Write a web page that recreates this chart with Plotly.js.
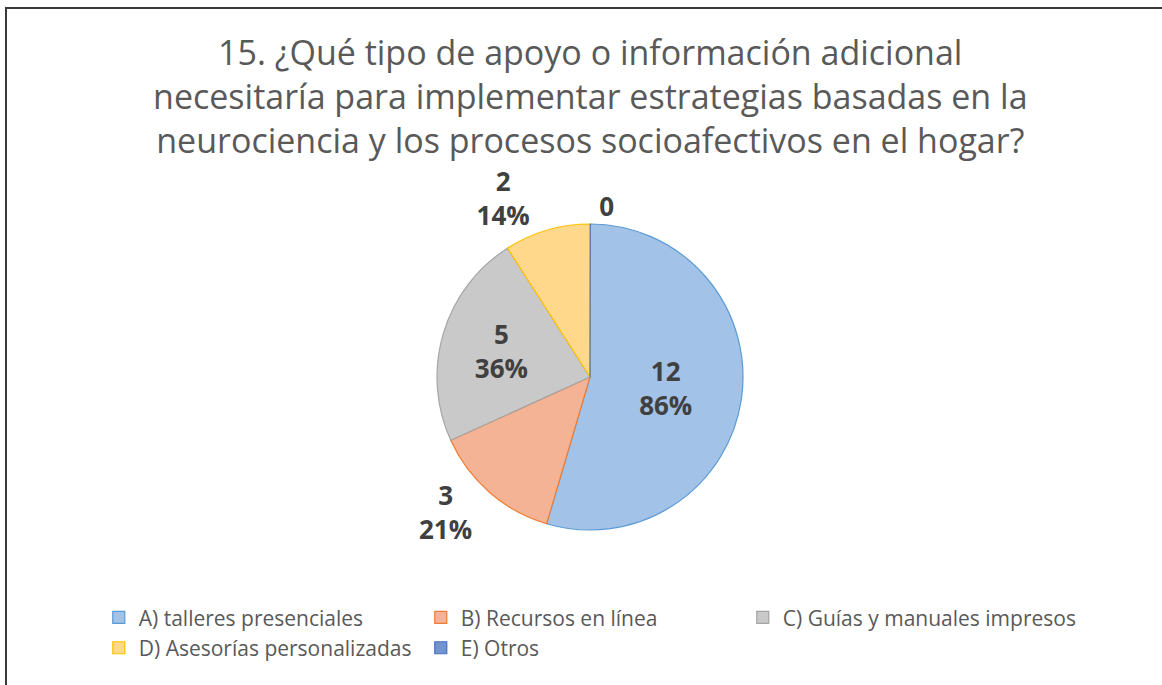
<!DOCTYPE html>
<html>
<head>
<meta charset="utf-8">
<script src="https://cdn.plot.ly/plotly-3.0.1.min.js"></script>
<style>
  html, body { margin: 0; padding: 0; background: #fff; overflow: hidden; }
  #chart { position: absolute; left: 0; top: 0; width: 1162px; height: 685px; }
  #frame { position: absolute; left: 5px; top: 7px; width: 1200px; height: 720px;
           border: 2px solid #3a3a3a; pointer-events: none; }
  #chart path.textline { stroke-opacity: 0 !important; }
  #chart .legend .scrollbox, #chart .legend { clip-path: none !important; }
</style>
</head>
<body>
<div id="chart"></div>
<div id="frame"></div>
<script>
// ---- data ----
const categories = [
  "A) talleres presenciales",
  "B) Recursos en línea",
  "C) Guías y manuales impresos",
  "D) Asesorías personalizadas",
  "E) Otros"
];
const counts = [12, 3, 5, 2, 0];
const percentLabels = ["86%", "21%", "36%", "14%", ""];
const titleLines = [
  "15. ¿Qué tipo de apoyo o información adicional",
  "necesitaría para implementar estrategias basadas en la",
  "neurociencia y los procesos socioafectivos en el hogar?"
];

// ---- styles ----
const fillColors = ["#a3c2e7", "#f5b395", "#c9c9c9", "#ffd88c", "#7393d3"];
const edgeColors = ["#5b9bd5", "#ed7d31", "#a5a5a5", "#ffc000", "#4472c4"];
const textPos = ["inside", "outside", "inside", "outside", "outside"];

const labelText = counts.map((c, i) => percentLabels[i] ? c + "<br>" + percentLabels[i] : String(c));

const labelFont = { family: "Open Sans, sans-serif", size: 26, color: "#404040", weight: "bold" };

const trace = {
  type: "pie",
  labels: categories,
  values: counts,
  text: labelText,
  textinfo: "text",
  texttemplate: "%{text}",
  textposition: textPos,
  insidetextorientation: "horizontal",
  sort: false,
  direction: "clockwise",
  rotation: 0.1,
  hole: 0,
  marker: { colors: fillColors, line: { color: edgeColors, width: 1.2 } },
  textfont: labelFont,
  insidetextfont: labelFont,
  outsidetextfont: labelFont,
  domain: { x: [0.2, 0.8155], y: [0.2263, 0.6730] },
  hoverinfo: "label+value"
};

const layout = {
  width: 1162,
  height: 685,
  margin: { l: 0, r: 0, t: 0, b: 0 },
  paper_bgcolor: "#ffffff",
  showlegend: true,
  title: {
    text: titleLines.join("<br>"),
    font: { family: "Open Sans, sans-serif", size: 34, color: "#595959" },
    x: 0.508, xanchor: "center",
    y: 0.905, yanchor: "top", yref: "container"
  },
  legend: {
    orientation: "h",
    x: 0.085, xanchor: "left",
    y: 0.128, yanchor: "top",
    entrywidth: 277, entrywidthmode: "pixels",
    font: { family: "Open Sans, sans-serif", size: 21, color: "#595959" },
    traceorder: "normal"
  }
};

Plotly.newPlot("chart", [trace], layout, { staticPlot: true, displayModeBar: false });
</script>
</body>
</html>
